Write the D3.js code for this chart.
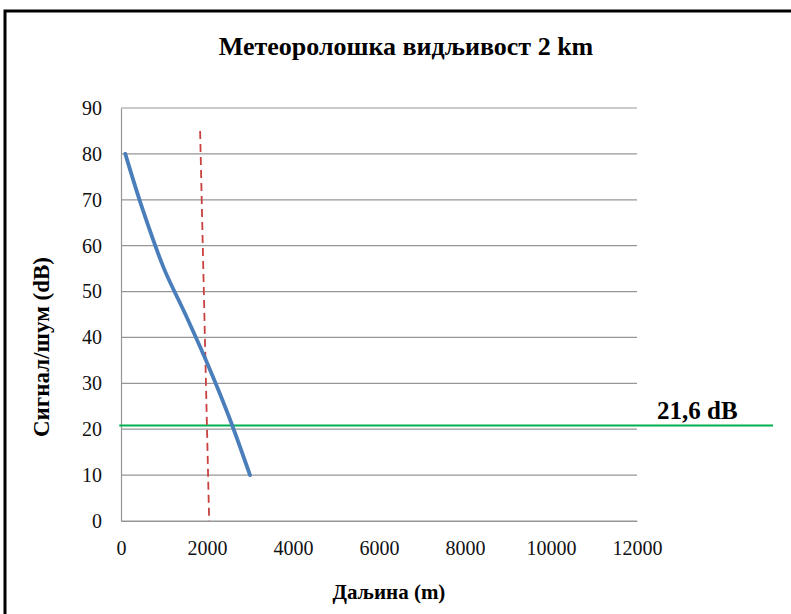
<!DOCTYPE html>
<html>
<head>
<meta charset="utf-8">
<script src="https://cdn.jsdelivr.net/npm/d3@7"></script>
<style>
  body { margin: 0; background: #fff; }
  svg { display: block; font-family: "Liberation Serif", "Times New Roman", serif; }
</style>
</head>
<body>
<svg id="chart" width="791" height="614"></svg>
<script>
// data
const distance = [100, 500, 1000, 1500, 2000, 2500, 3000]
const snr = [80, 68, 55, 45, 34.5, 23, 10]
const visLineX = [1840, 2050]
const visLineY = [85, 0]
const thresholdDb = 20.8
const thresholdLabel = '21,6 dB'
const xTicks = [0, 2000, 4000, 6000, 8000, 10000, 12000]
const yTicks = [0, 10, 20, 30, 40, 50, 60, 70, 80, 90]

const svg = d3.select('#chart')
const plotLeft = 121, plotRight = 637, plotTop = 108, plotBottom = 521

const x = d3.scaleLinear().domain([0, 12000]).range([plotLeft, plotRight])
const y = d3.scaleLinear().domain([0, 90]).range([plotBottom, plotTop])

// outer frame
svg.append('rect')
  .attr('x', 5).attr('y', 11)
  .attr('width', 800).attr('height', 620)
  .attr('fill', 'none')
  .attr('stroke', '#000')
  .attr('stroke-width', 3)

// title
svg.append('text')
  .attr('x', 406).attr('y', 55)
  .attr('text-anchor', 'middle')
  .attr('font-size', 26)
  .attr('font-weight', 'bold')
  .text('Метеоролошка видљивост 2 km')

// gridlines
svg.append('g')
  .selectAll('line')
  .data(yTicks)
  .enter()
  .append('line')
  .attr('x1', plotLeft).attr('x2', plotRight)
  .attr('y1', (d) => y(d)).attr('y2', (d) => y(d))
  .attr('stroke', '#969696')
  .attr('stroke-width', 1.2)

// axes
const yAxis = svg.append('g')
  .attr('transform', `translate(${plotLeft},0)`)
  .call(d3.axisLeft(y).tickValues(yTicks).tickSize(0).tickPadding(19))
yAxis.select('.domain').attr('stroke', '#969696').attr('stroke-width', 1.2)
yAxis.selectAll('text')
  .attr('font-family', '"Liberation Serif", serif')
  .attr('font-size', 20)
  .attr('fill', '#111')

const xAxis = svg.append('g')
  .attr('transform', `translate(0,${plotBottom})`)
  .call(d3.axisBottom(x).tickValues(xTicks).tickSize(0).tickPadding(20).tickFormat(d3.format('d')))
xAxis.select('.domain').attr('stroke', '#969696').attr('stroke-width', 1.2)
xAxis.selectAll('text')
  .attr('font-family', '"Liberation Serif", serif')
  .attr('font-size', 20)
  .attr('fill', '#111')

// axis titles
svg.append('text')
  .attr('x', 389).attr('y', 599)
  .attr('text-anchor', 'middle')
  .attr('font-size', 21)
  .attr('font-weight', 'bold')
  .text('Даљина (m)')

svg.append('text')
  .attr('transform', 'translate(49,347) rotate(-90)')
  .attr('text-anchor', 'middle')
  .attr('font-size', 23)
  .attr('font-weight', 'bold')
  .text('Сигнал/шум (dB)')

// threshold line
svg.append('line')
  .attr('x1', x(-40)).attr('x2', 773)
  .attr('y1', y(thresholdDb)).attr('y2', y(thresholdDb))
  .attr('stroke', '#00b050')
  .attr('stroke-width', 2)

svg.append('text')
  .attr('x', 657).attr('y', 419)
  .attr('font-size', 25)
  .attr('font-weight', 'bold')
  .text(thresholdLabel)

// visibility dashed line
svg.append('line')
  .attr('x1', x(visLineX[0])).attr('y1', y(visLineY[0]))
  .attr('x2', x(visLineX[1])).attr('y2', y(visLineY[1]))
  .attr('stroke', '#c8413f')
  .attr('stroke-width', 1.8)
  .attr('stroke-dasharray', '8,5')

// curve
const line = d3.line()
  .x((d, i) => x(distance[i]))
  .y((d) => y(d))
  .curve(d3.curveCatmullRom.alpha(0.5))

svg.append('path')
  .datum(snr)
  .attr('d', line)
  .attr('fill', 'none')
  .attr('stroke', '#4a7ebb')
  .attr('stroke-width', 3.8)
  .attr('stroke-linecap', 'round')
</script>
</body>
</html>
